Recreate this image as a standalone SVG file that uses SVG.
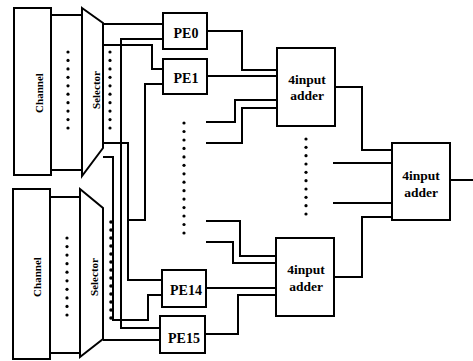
<svg xmlns="http://www.w3.org/2000/svg" width="473" height="361" viewBox="0 0 473 361">
<style>
.b{fill:#fff;stroke:#000;stroke-width:2}
.w{fill:none;stroke:#000;stroke-width:2}
.t{font-family:"Liberation Serif","Times New Roman",serif;font-weight:bold;fill:#000;text-anchor:middle}
.pe{font-size:14px}
.ad{font-size:13.5px}
.rt{font-size:11px}
.d{fill:#000}
</style>
<rect width="473" height="361" fill="#fff"/>
<g id="connectors">
<path class="w" d="M103,24 H163"/>
<path class="w" d="M103,45 H152 V69 H163"/>
<path class="w" d="M163,39 H121 V328 H160"/>
<path class="w" d="M103,143 H128 V280 H162"/>
<path class="w" d="M163,84 H145 V220 H128"/>
<path class="w" d="M103,157 H113 V320 H148 V295 H162"/>
<path class="w" d="M103,340 H160"/>
<path class="w" d="M207,31 H242 V70 H277"/>
<path class="w" d="M207,76 H277"/>
<path class="w" d="M206,122 H235 V100 H277"/>
<path class="w" d="M206,143 H242 V108 H277"/>
<path class="w" d="M206,221 H240 V256 H276"/>
<path class="w" d="M206,242 H233 V263 H276"/>
<path class="w" d="M206,288 H276"/>
<path class="w" d="M205,334 H238 V295 H276"/>
<path class="w" d="M335,87 H362 V150 H392"/>
<path class="w" d="M333,163 H392"/>
<path class="w" d="M333,203 H392"/>
<path class="w" d="M334,277 H362 V217 H392"/>
<path class="w" d="M450,180 H473"/>
</g>
<g id="top-channel">
<rect class="b" x="14" y="8" width="37" height="167"/>
<text class="t rt" transform="translate(43,93) rotate(-90)">Channel</text>
</g>
<g id="top-buffer">
<rect class="b" x="51" y="15" width="31" height="155"/>
<g class="d">
<circle cx="68" cy="52" r="1.6"/><circle cx="68" cy="60.4" r="1.6"/><circle cx="68" cy="68.9" r="1.6"/><circle cx="68" cy="77.3" r="1.6"/><circle cx="68" cy="85.8" r="1.6"/><circle cx="68" cy="94.2" r="1.6"/><circle cx="68" cy="102.7" r="1.6"/><circle cx="68" cy="111.1" r="1.6"/><circle cx="68" cy="119.6" r="1.6"/><circle cx="68" cy="128" r="1.6"/>
</g>
</g>
<g id="top-selector">
<polygon class="b" points="82,8 103,23 103,148 82,176"/>
<text class="t rt" transform="translate(100,90) rotate(-90)">Selector</text>
<g class="d">
<circle cx="110" cy="52" r="1.6"/><circle cx="110" cy="60.4" r="1.6"/><circle cx="110" cy="68.9" r="1.6"/><circle cx="110" cy="77.3" r="1.6"/><circle cx="110" cy="85.8" r="1.6"/><circle cx="110" cy="94.2" r="1.6"/><circle cx="110" cy="102.7" r="1.6"/><circle cx="110" cy="111.1" r="1.6"/><circle cx="110" cy="119.6" r="1.6"/><circle cx="110" cy="128" r="1.6"/>
</g>
</g>
<g id="bottom-channel">
<rect class="b" x="13" y="189" width="37" height="170"/>
<text class="t rt" transform="translate(41,277) rotate(-90)">Channel</text>
</g>
<g id="bottom-buffer">
<rect class="b" x="50" y="197" width="30" height="156"/>
<g class="d">
<circle cx="67" cy="238" r="1.6"/><circle cx="67" cy="246.6" r="1.6"/><circle cx="67" cy="255.1" r="1.6"/><circle cx="67" cy="263.7" r="1.6"/><circle cx="67" cy="272.2" r="1.6"/><circle cx="67" cy="280.8" r="1.6"/><circle cx="67" cy="289.3" r="1.6"/><circle cx="67" cy="297.9" r="1.6"/><circle cx="67" cy="306.4" r="1.6"/><circle cx="67" cy="315" r="1.6"/>
</g>
</g>
<g id="bottom-selector">
<polygon class="b" points="80,189 103,208 103,339 80,357"/>
<text class="t rt" transform="translate(98,277) rotate(-90)">Selector</text>
<g class="d">
<circle cx="111" cy="222" r="1.8"/><circle cx="111" cy="230" r="1.8"/><circle cx="111" cy="238" r="1.8"/><circle cx="111" cy="246" r="1.8"/><circle cx="111" cy="254" r="1.8"/><circle cx="111" cy="262" r="1.8"/><circle cx="111" cy="270" r="1.8"/><circle cx="111" cy="278" r="1.8"/><circle cx="111" cy="286" r="1.8"/><circle cx="111" cy="294" r="1.8"/><circle cx="111" cy="302" r="1.8"/><circle cx="111" cy="310" r="1.8"/><circle cx="111" cy="318" r="1.8"/>
</g>
</g>
<g id="pe0"><rect class="b" x="163" y="13" width="44" height="36"/><text class="t pe" x="186" y="38">PE0</text></g>
<g id="pe1"><rect class="b" x="163" y="59" width="44" height="35"/><text class="t pe" x="186" y="83">PE1</text></g>
<g id="pe14"><rect class="b" x="162" y="270" width="44" height="37"/><text class="t pe" x="186" y="295">PE14</text></g>
<g id="pe15"><rect class="b" x="160" y="316" width="45" height="37"/><text class="t pe" x="184" y="343">PE15</text></g>
<g id="pe-dots" class="d">
<circle cx="184" cy="123" r="1.6"/><circle cx="184" cy="131.5" r="1.6"/><circle cx="184" cy="140" r="1.6"/><circle cx="184" cy="148.4" r="1.6"/><circle cx="184" cy="156.9" r="1.6"/><circle cx="184" cy="165.3" r="1.6"/><circle cx="184" cy="173.8" r="1.6"/><circle cx="184" cy="182.2" r="1.6"/><circle cx="184" cy="190.7" r="1.6"/><circle cx="184" cy="199.1" r="1.6"/><circle cx="184" cy="207.6" r="1.6"/><circle cx="184" cy="216" r="1.6"/><circle cx="184" cy="224.5" r="1.6"/><circle cx="184" cy="233" r="1.6"/>
</g>
<g id="adder1"><rect class="b" x="277" y="48" width="58" height="78"/><text class="t ad" x="307" y="84">4input</text><text class="t ad" x="307" y="100">adder</text></g>
<g id="adder2"><rect class="b" x="276" y="238" width="58" height="78"/><text class="t ad" x="306" y="274">4input</text><text class="t ad" x="306" y="291">adder</text></g>
<g id="adder-dots" class="d">
<circle cx="306" cy="139" r="1.6"/><circle cx="306" cy="147.3" r="1.6"/><circle cx="306" cy="155.7" r="1.6"/><circle cx="306" cy="164" r="1.6"/><circle cx="306" cy="172.3" r="1.6"/><circle cx="306" cy="180.7" r="1.6"/><circle cx="306" cy="189" r="1.6"/><circle cx="306" cy="197.3" r="1.6"/><circle cx="306" cy="205.7" r="1.6"/><circle cx="306" cy="214" r="1.6"/>
</g>
<g id="adder-final"><rect class="b" x="392" y="143" width="58" height="77"/><text class="t ad" x="421" y="180">4input</text><text class="t ad" x="421" y="197">adder</text></g>
</svg>
